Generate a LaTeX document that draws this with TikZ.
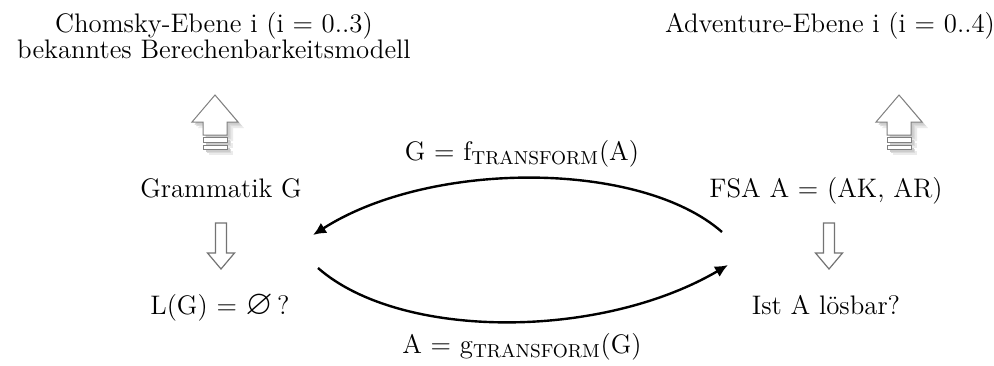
\documentclass[tikz,border=0pt]{standalone}
\usepackage{amssymb}
\usepackage{fontspec}
\usetikzlibrary{arrows.meta}
\begin{document}
\begin{tikzpicture}[x=0.5pt,y=-0.5pt,
  lbl/.style={inner sep=0pt,anchor=base,font=\fontsize{13.4}{13}\selectfont},
  conn/.style={line width=1.2pt,-{Latex[length=6.5pt,width=6pt]}},
  hollow/.style={draw=black!55,line width=0.6pt,fill=white},
  uparr/.style={draw=black!50,line width=0.5pt,fill=white}]
\useasboundingbox (0,0) rectangle (994,365);
% texts
\node[lbl] (chom) at (214,32) {Chomsky-Ebene i (i = 0..3)};
\node[lbl] (bek) at (214,58) {bekanntes Berechenbarkeitsmodell};
\node[lbl] (adv) at (830,32) {Adventure-Ebene i (i = 0..4)};
\node[lbl] (gram) at (221,197) {Grammatik G};
\node[lbl] (lg) at (220,314) {L(G) = \scalebox{1.3}{$\varnothing$}\,?};
\node[lbl] (fsa) at (826,197) {FSA A = (AK, AR)};
\node[lbl] (ist) at (826,314) {Ist A lösbar?};
\node[lbl] (ftr) at (522,160) {G = f\textsubscript{TRANSFORM}(A)};
\node[lbl] (gtr) at (522,353) {A = g\textsubscript{TRANSFORM}(G)};
% connector endpoints
\coordinate (t1) at (722,232);
\coordinate (t2) at (313,235);
\coordinate (b1) at (318,268);
\coordinate (b2) at (728,265);
\draw[conn] (t1) .. controls (640,160) and (430,160) .. (t2);
\draw[conn] (b1) .. controls (400,340) and (600,340) .. (b2);
% up arrows (3D style)
\foreach \cx in {215, 899}{
  \begin{scope}[shift={(\cx,95)}]
    \foreach \d/\c in {6/8, 4/14, 2.5/20}{
      \fill[black!\c] (\d,\d) -- ++(23,27) -- ++(-11,0) -- ++(0,13) -- ++(-24,0) -- ++(0,-13) -- ++(-11,0) -- cycle;
      \fill[black!\c] (-12+\d,42+\d) rectangle (12+\d,47+\d);
      \fill[black!\c] (-12+\d,50+\d) rectangle (12+\d,54+\d);
    }
    \draw[uparr] (0,0) -- (23,27) -- (12,27) -- (12,40) -- (-12,40) -- (-12,27) -- (-23,27) -- cycle;
    \draw[uparr] (-12,42) rectangle (12,47);
    \draw[uparr] (-12,50) rectangle (12,54);
  \end{scope}
}
% down hollow arrows
\foreach \cx in {221, 829}{
  \begin{scope}[shift={(\cx,223)}]
    \draw[hollow] (-5.5,0) -- (5.5,0) -- (5.5,30) -- (13.5,30) -- (0,46) -- (-13.5,30) -- (-5.5,30) -- cycle;
  \end{scope}
}
\end{tikzpicture}
\end{document}
